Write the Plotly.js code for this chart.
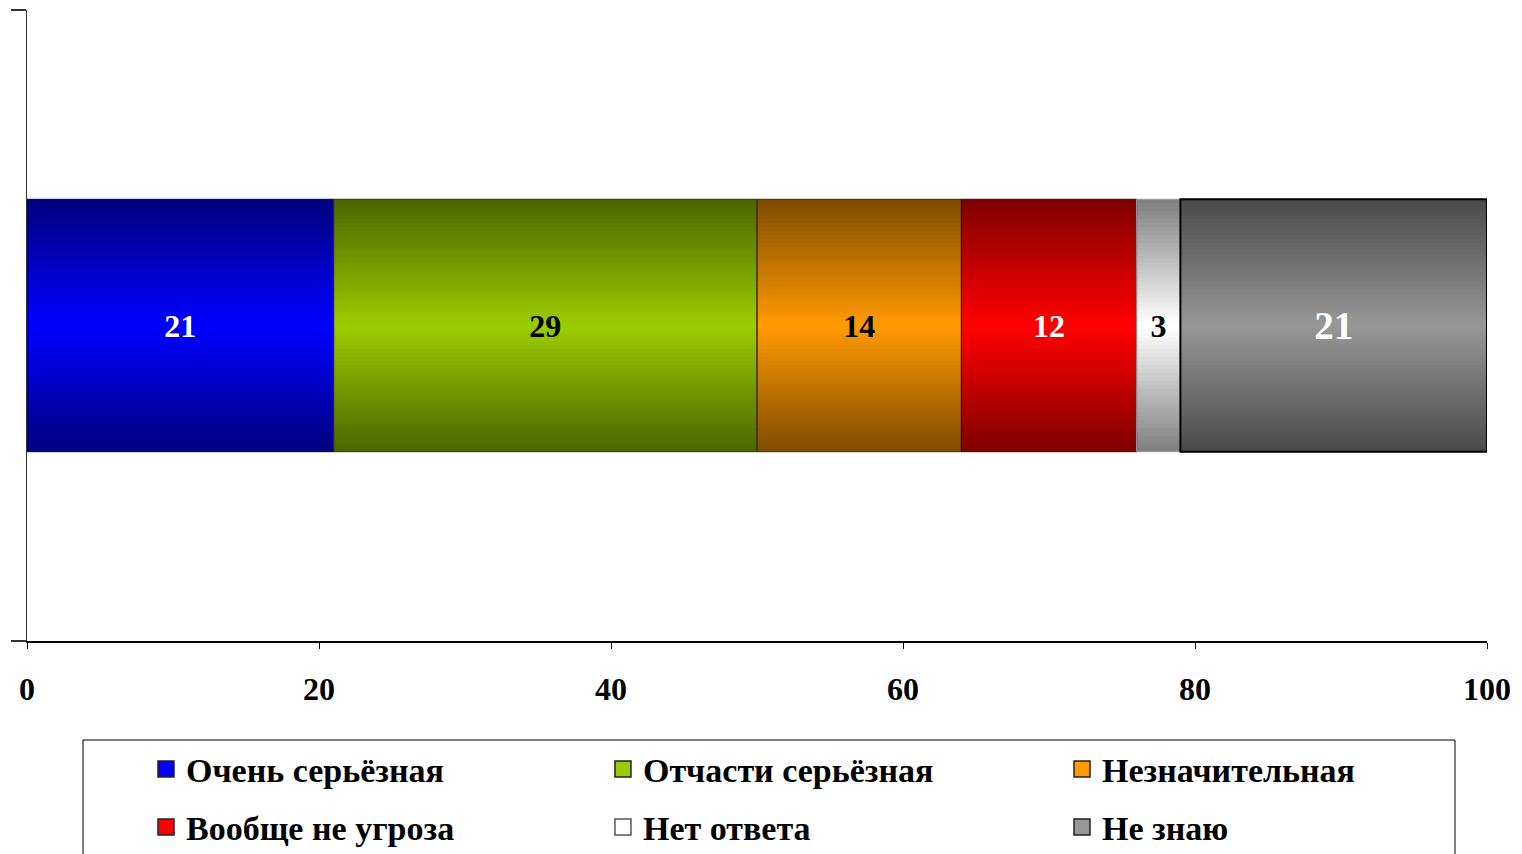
<!DOCTYPE html>
<html>
<head>
<meta charset="utf-8">
<script src="https://cdn.plot.ly/plotly-3.0.1.min.js"></script>
<style>html,body{margin:0;padding:0;background:#fff;}#chart{width:1522px;height:854px;}</style>
</head>
<body>
<div id="chart"></div>
<script>
// ---- data ----
const categories = ["Очень серьёзная", "Отчасти серьёзная", "Незначительная", "Вообще не угроза", "Нет ответа", "Не знаю"];
const values = [21, 29, 14, 12, 3, 21];
const xTickVals = [0, 20, 40, 60, 80, 100];
const xTickText = ["0", "20", "40", "60", "80", "100"];

// ---- styling ----
const FONT = "Liberation Serif, Times New Roman, serif";
const centerColors = ["#0000FF", "#99CC00", "#FF9900", "#FF0000", "#FFFFFF", "#969696"];
const edgeColors   = ["#000080", "#4D6600", "#804D00", "#800000", "#808080", "#4B4B4B"];
const labelColors  = ["#FFFFFF", "#000000", "#000000", "#FFFFFF", "#000000", "#FFFFFF"];
const labelSizes   = [32, 32, 32, 32, 32, 39];
const borderColors = ["#000040", "#2a3300", "#402600", "#400000", "#9a9a9a", "#000000"];
const borderWidths = [1, 1, 1, 1, 1, 2];
// legend slot positions (paper coords)
const legendX = [0.0815, 0.3945, 0.7089, 0.0815, 0.3945, 0.7089];
const legendY = [-0.2036, -0.2036, -0.2036, -0.2955, -0.2955, -0.2955];

const bases = [];
values.reduce((acc, v) => { bases.push(acc); return acc + v; }, 0);
const yPos = values.map(() => 0);

function hex2rgb(h){ return [1,3,5].map(i => parseInt(h.substr(i,2),16)); }
function lerp(a, b, t){
  const A = hex2rgb(a), B = hex2rgb(b);
  return "rgb(" + A.map((v,i) => Math.round(v + (B[i]-v)*t)).join(",") + ")";
}

const BAR_W = 0.4, N = 32;
const traces = [];
for (let k = 0; k < N; k++) {
  const t = k / (N - 1);
  traces.push({
    type: "bar", orientation: "h",
    x: values, y: yPos, base: bases,
    width: BAR_W * (1 - k / N),
    marker: { color: edgeColors.map((e, i) => lerp(e, centerColors[i], t)), line: { width: 0 } },
    showlegend: false, hoverinfo: "skip"
  });
}
// outline + labels
traces.push({
  type: "bar", orientation: "h",
  x: values, y: yPos, base: bases, width: BAR_W,
  marker: { color: "rgba(0,0,0,0)", line: { color: borderColors, width: borderWidths } },
  text: values.map(String),
  textposition: "inside", insidetextanchor: "middle", constraintext: "none",
  textfont: { color: labelColors, size: labelSizes, family: FONT, weight: "bold" },
  showlegend: false, hoverinfo: "skip"
});

const layout = {
  width: 1522, height: 854,
  margin: { l: 27, r: 35, t: 10, b: 213, autoexpand: false },
  paper_bgcolor: "#fff", plot_bgcolor: "#fff",
  font: { family: FONT, size: 32, weight: "bold", color: "#000" },
  barmode: "overlay",
  showlegend: true,
  xaxis: {
    range: [0, 100], tickvals: xTickVals, ticktext: xTickText,
    ticks: "outside", ticklen: 6, tickcolor: "#000", tickwidth: 1,
    showline: true, linecolor: "#000", linewidth: 1.5,
    showgrid: false, zeroline: false, fixedrange: true,
    ticklabelstandoff: 13,
    tickfont: { family: FONT, size: 32, weight: "bold", color: "#000" }
  },
  yaxis: {
    range: [-0.5, 0.5], tickvals: [-0.5, 0.5],
    ticks: "outside", ticklen: 15, tickcolor: "#333", tickwidth: 1.5,
    showticklabels: false, showline: true, linecolor: "#333", linewidth: 1.5,
    showgrid: false, zeroline: false, fixedrange: true
  },
  shapes: [{
    type: "rect", xref: "paper", yref: "paper",
    x0: (83 - 27) / 1460, x1: (1455 - 27) / 1460,
    y0: (641 - 740) / 631, y1: (641 - 880) / 631,
    line: { color: "#000", width: 1 }, fillcolor: "rgba(0,0,0,0)", layer: "below"
  }]
};

// legend entries: one legend per slot
categories.forEach((c, i) => {
  const id = i === 0 ? "legend" : "legend" + (i + 1);
  traces.push({
    type: "scatter", mode: "markers", x: [null], y: [null], name: c,
    legend: id, showlegend: true,
    marker: { symbol: "square", size: 16, color: centerColors[i], line: { color: edgeColors[i] === "#808080" ? "#555" : "#222", width: 1.5 } },
    hoverinfo: "skip"
  });
  layout[id] = {
    orientation: "v", xanchor: "left", yanchor: "middle",
    x: legendX[i], y: legendY[i],
    bgcolor: "rgba(0,0,0,0)", borderwidth: 0, itemsizing: "trace",
    font: { family: FONT, size: 34, weight: "bold", color: "#000" }
  };
});

Plotly.newPlot("chart", traces, layout, { displayModeBar: false, staticPlot: true });
</script>
</body>
</html>
